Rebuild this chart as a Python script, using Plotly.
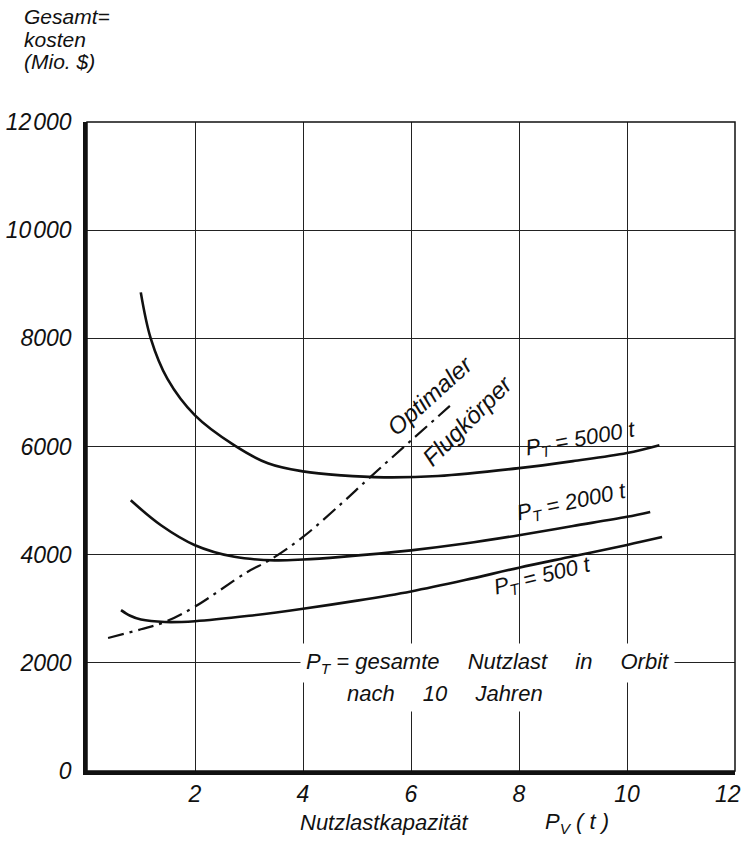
import plotly.graph_objects as go

# Data (Nutzlastkapazität P_V in t, Gesamtkosten in Mio. $)
x_5000 = [0.996, 1.18, 1.49, 2.0, 2.73, 3.35, 4.0, 4.71, 5.5, 6.5, 8.0, 9.0, 10.0, 10.6]
y_5000 = [8850, 8000, 7250, 6575, 6020, 5690, 5540, 5466, 5430, 5455, 5600, 5730, 5880, 6025]

x_2000 = [0.81, 1.37, 2.0, 2.73, 3.47, 4.0, 4.71, 6.0, 7.0, 8.0, 9.0, 10.0, 10.43]
y_2000 = [5005, 4544, 4175, 3960, 3895, 3910, 3960, 4080, 4205, 4360, 4530, 4700, 4790]

x_500 = [0.63, 0.8, 1.0, 1.44, 2.0, 3.0, 4.0, 5.0, 6.0, 7.0, 8.0, 9.0, 10.0, 10.65]
y_500 = [2975, 2870, 2800, 2755, 2770, 2870, 3000, 3150, 3320, 3530, 3760, 3970, 4180, 4325]

x_opt = [0.39, 1.0, 1.44, 2.0, 2.97, 3.38, 4.0, 4.71, 5.24, 6.72]
y_opt = [2460, 2620, 2755, 3040, 3680, 3898, 4328, 4943, 5430, 6750]

x_ticks = [2, 4, 6, 8, 10]
x_last_tick = "12"
y_ticks = [0, 2000, 4000, 6000, 8000, 10000, 12000]
y_tick_text = ["0", "2000", "4000", "6000", "8000", "10\u200a000", "12\u200a000"]

FONT = "Liberation Sans"
ink = "#111111"

fig = go.Figure()
for xs, ys in [(x_5000, y_5000), (x_2000, y_2000), (x_500, y_500)]:
    fig.add_trace(go.Scatter(x=xs, y=ys, mode="lines",
                             line=dict(color=ink, width=2.6, shape="spline", smoothing=1.0),
                             showlegend=False, hoverinfo="skip"))
fig.add_trace(go.Scatter(x=x_opt, y=y_opt, mode="lines",
                         line=dict(color=ink, width=2.2, shape="spline", smoothing=1.0,
                                   dash="16px,6px,3px,6px"),
                         showlegend=False, hoverinfo="skip"))

tfont = dict(family=FONT, size=22, color=ink, style="italic")
tickfont = dict(family=FONT, size=23, color=ink, style="italic")
bigfont = dict(family=FONT, size=24, color=ink, style="italic")

# Curve labels
labels = [
    (6.35, 6950, "Optimaler", -42, bigfont),
    (7.04, 6490, "Flugkörper", -45, bigfont),
    (9.13, 6120, "P<sub>T</sub> = 5000 t", -10, tfont),
    (8.98, 4955, "P<sub>T</sub> = 2000 t", -12, tfont),
    (8.43, 3590, "P<sub>T</sub> = 500 t", -14, tfont),
]
for lx, ly, lt, ang, fnt in labels:
    fig.add_annotation(x=lx, y=ly, text=lt, showarrow=False, textangle=ang,
                       font=fnt, xref="x", yref="y")

# Explanation note (white background interrupts grid)
fig.add_annotation(x=3.95, y=2000, xanchor="left", yanchor="middle",
                   text="P<sub>T</sub> = gesamte\u2003 Nutzlast\u2003 in\u2003 Orbit",
                   showarrow=False, font=tfont, bgcolor="white", borderpad=5)
fig.add_annotation(x=4.7, y=1440, xanchor="left", yanchor="middle",
                   text="nach\u2003 10\u2003 Jahren",
                   showarrow=False, font=tfont, bgcolor="white", borderpad=5)

# Y axis title (top left)
ytitle_font = dict(family=FONT, size=21, color=ink, style="italic")
for i, t in enumerate(["Gesamt=", "kosten", "(Mio. $)"]):
    fig.add_annotation(xref="paper", yref="paper", x=-0.1, y=(771 - 17 - 22 * i) / 649,
                       xanchor="left", yanchor="middle", text=t, showarrow=False,
                       font=ytitle_font)
# Last x tick label (kept inside the page)
fig.add_annotation(xref="paper", yref="paper", x=1.0125, y=-0.0354, xanchor="right", yanchor="middle",
                   text=x_last_tick, showarrow=False, font=tickfont)
# X axis title
fig.add_annotation(xref="paper", yref="paper", x=0.3256, y=-0.080, xanchor="left", yanchor="middle",
                   text="Nutzlastkapazität", showarrow=False, font=tfont)
fig.add_annotation(xref="paper", yref="paper", x=0.7037, y=-0.080, xanchor="left", yanchor="middle",
                   text="P<sub>V</sub> ( t )", showarrow=False, font=tfont)

# top/right frame
fig.add_shape(type="rect", xref="paper", yref="paper", x0=0, y0=0, x1=1, y1=1,
              line=dict(color=ink, width=1.5), layer="above")

fig.update_xaxes(range=[0, 12], tickvals=x_ticks, showgrid=True, gridcolor="#222222", gridwidth=1.1,
                 showline=True, linecolor=ink, linewidth=3.5, zeroline=False,
                 tickfont=tickfont, ticks="", ticklabelstandoff=0, automargin=False,
                 ticklabeloverflow="allow")
fig.update_yaxes(range=[0, 12000], tickvals=y_ticks, ticktext=y_tick_text, showgrid=True,
                 gridcolor="#222222", gridwidth=1.1, showline=True, linecolor=ink, linewidth=3.5,
                 zeroline=False, tickfont=tickfont, ticks="", ticklabelstandoff=7, automargin=False,
                 ticklabeloverflow="allow")

fig.update_layout(width=743, height=841, plot_bgcolor="white", paper_bgcolor="white",
                  margin=dict(l=87, r=8, t=122, b=70), showlegend=False)

fig.write_html("out.html", config={"displayModeBar": False},
               post_script="document.body.style.margin='0';document.body.style.overflow='hidden';")
